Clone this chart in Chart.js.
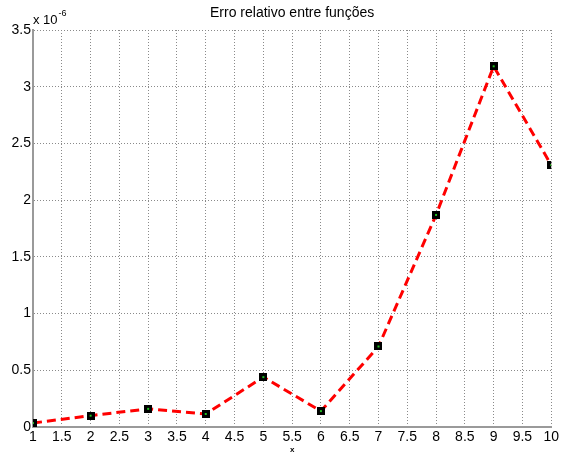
<!DOCTYPE html>
<html>
<head>
<meta charset="utf-8">
<script src="https://cdn.jsdelivr.net/npm/chart.js@4"></script>
<style>
  html, body { margin: 0; padding: 0; background: #fff; }
  #wrap { width: 561px; height: 454px; }
</style>
</head>
<body>
<div id="wrap"><canvas id="erroChart" width="561" height="454"></canvas></div>
<script>
const xValues = [1, 2, 3, 4, 5, 6, 7, 8, 9, 10];
const erroRelativo = [0.035e-6, 0.10e-6, 0.16e-6, 0.115e-6, 0.44e-6, 0.14e-6, 0.71e-6, 1.87e-6, 3.18e-6, 2.31e-6];
const titleText = 'Erro relativo entre funções';
const xAxisLabel = 'x';
const yExponentLabel = ['x 10', '-6'];

const FONT = '"Liberation Sans", Arial, sans-serif';

// MATLAB-like marker: small black square with a green dot in the middle
function makeMarker() {
    const c = document.createElement('canvas');
    c.width = 8;
    c.height = 8;
    const g = c.getContext('2d');
    g.fillStyle = '#000';
    g.fillRect(0, 0, 8, 8);
    g.fillStyle = '#22c022';
    g.fillRect(3, 3, 2, 2);
    return c;
}

// Title and the "x 10^-6" multiplier drawn above the plot
const annotations = {
    id: 'annotations',
    afterDraw(chart) {
        const ctx = chart.ctx;
        const area = chart.chartArea;
        ctx.save();
        ctx.fillStyle = '#000';
        ctx.textBaseline = 'alphabetic';

        ctx.font = '14px ' + FONT;
        ctx.textAlign = 'center';
        ctx.fillText(titleText, (area.left + area.right) / 2, 17);

        ctx.textAlign = 'left';
        ctx.font = '13px ' + FONT;
        ctx.fillText(yExponentLabel[0], area.left, 24);
        const w = ctx.measureText(yExponentLabel[0]).width;
        ctx.font = '9px ' + FONT;
        ctx.fillText(yExponentLabel[1], area.left + w + 1, 16);

        ctx.font = 'bold 8px ' + FONT;
        ctx.textAlign = 'center';
        ctx.fillText(xAxisLabel, (area.left + area.right) / 2, 452);
        ctx.restore();
    }
};

const points = xValues.map((x, i) => ({ x: x, y: erroRelativo[i] }));

new Chart(document.getElementById('erroChart').getContext('2d'), {
    type: 'line',
    data: {
        datasets: [{
            data: points,
            borderColor: '#ff0000',
            borderWidth: 3,
            borderDash: [9, 5],
            fill: false,
            tension: 0,
            pointStyle: makeMarker(),
            pointRadius: 4
        }]
    },
    options: {
        responsive: false,
        animation: false,
        layout: { padding: { top: 30, right: 8, left: 0, bottom: 0 } },
        plugins: {
            legend: { display: false },
            tooltip: { enabled: false },
            title: { display: false }
        },
        scales: {
            x: {
                type: 'linear',
                min: 1,
                max: 10,
                afterFit: scale => { scale.height = 27; },
                ticks: {
                    stepSize: 0.5,
                    autoSkip: false,
                    maxRotation: 0,
                    padding: 2,
                    color: '#000',
                    font: { family: FONT, size: 14 },
                    callback: v => String(v)
                },
                grid: { color: '#8a8a8a', lineWidth: 1, drawTicks: false },
                border: { display: true, color: '#9a9a9a', width: 2, dash: [1, 2] }
            },
            y: {
                min: 0,
                max: 3.5e-6,
                afterFit: scale => { scale.width = 33; },
                ticks: {
                    stepSize: 0.5e-6,
                    padding: 2,
                    color: '#000',
                    font: { family: FONT, size: 14 },
                    callback: v => String(Math.round(v * 1e7) / 10)
                },
                grid: { color: '#8a8a8a', lineWidth: 1, drawTicks: false },
                border: { display: true, color: '#9a9a9a', width: 2, dash: [1, 2] }
            }
        }
    },
    plugins: [annotations]
});
</script>
</body>
</html>
